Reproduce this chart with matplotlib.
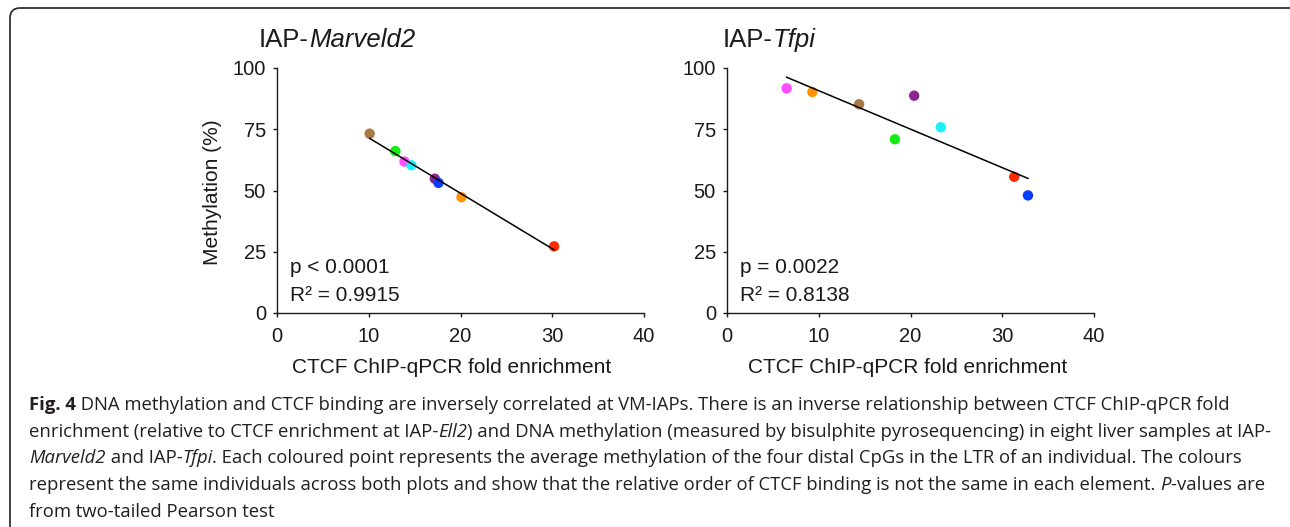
"""CTCF enrichment vs DNA methylation at IAP-Marveld2 and IAP-Tfpi (Fig. 4).
"""
import matplotlib
matplotlib.use('Agg')
import matplotlib.pyplot as plt
from matplotlib.font_manager import FontProperties
from matplotlib.patches import FancyBboxPatch
from matplotlib.transforms import IdentityTransform
import numpy as np

W, H = 1290, 527

# one colour per individual, same order in both panels
individuals = ['pink', 'orange', 'brown', 'green', 'purple', 'cyan', 'red', 'blue']
colours = ['#ff4cff', '#ff9200', '#a87a45', '#14ee14', '#8e2490', '#1ef0fa', '#ff2a00', '#0a3cff']

# IAP-Marveld2
marveld2_ctcf = [13.9, 20.1, 10.1, 12.9, 17.2, 14.65, 30.2, 17.6]
marveld2_meth = [61.8, 47.3, 73.2, 66.1, 54.8, 60.3, 27.2, 53.1]

# IAP-Tfpi
tfpi_ctcf = [6.5, 9.3, 14.4, 18.3, 20.4, 23.3, 31.3, 32.8]
tfpi_meth = [91.7, 90.2, 85.2, 70.9, 88.7, 75.8, 55.6, 48.0]

panels = [
    ('IAP-', 'Marveld2', marveld2_ctcf, marveld2_meth, 'p < 0.0001', 'R\u00b2 = 0.9915'),
    ('IAP-', 'Tfpi', tfpi_ctcf, tfpi_meth, 'p = 0.0022', 'R\u00b2 = 0.8138'),
]

x_ticks = [0, 10, 20, 30, 40]
y_ticks = [0, 25, 50, 75, 100]

caption = [
    [('Fig. 4', 'normal', 'bold'),
     (' DNA methylation and CTCF binding are inversely correlated at VM-IAPs. There is an inverse '
      'relationship between CTCF ChIP-qPCR fold', 'normal', 'normal')],
    [('enrichment (relative to CTCF enrichment at IAP-', 'normal', 'normal'),
     ('Ell2', 'italic', 'normal'),
     (') and DNA methylation (measured by bisulphite pyrosequencing) in eight liver samples at IAP-',
      'normal', 'normal')],
    [('Marveld2', 'italic', 'normal'),
     (' and IAP-', 'normal', 'normal'),
     ('Tfpi', 'italic', 'normal'),
     ('. Each coloured point represents the average methylation of the four distal CpGs in the LTR '
      'of an individual. The colours', 'normal', 'normal')],
    [('represent the same individuals across both plots and show that the relative order of CTCF '
      'binding is not the same in each element. ', 'normal', 'normal'),
     ('P', 'italic', 'normal'),
     ('-values are', 'normal', 'normal')],
    [('from two-tailed Pearson test', 'normal', 'normal')],
]

CHART_FONT = 'Liberation Sans'
CAPTION_FONT = ['Open Sans', 'DejaVu Sans']
INK = '#1a1a1a'


def px(x, y):
    # pixel position (from top-left) -> figure fraction
    return x / W, 1 - y / H


def draw_runs(fig, x, y, runs, size, family, color):
    # draw pieces of text with different styles one after the other on a baseline
    renderer = fig.canvas.get_renderer()
    for text, style, weight in runs:
        prop = FontProperties(family=family, style=style, weight=weight, size=size)
        fig.text(*px(x, y), text, fontproperties=prop, color=color,
                 ha='left', va='baseline')
        w1, _, _ = renderer.get_text_width_height_descent(text + '|', prop, ismath=False)
        w2, _, _ = renderer.get_text_width_height_descent('|', prop, ismath=False)
        x += w1 - w2


fig = plt.figure(figsize=(W / 100, H / 100), dpi=100)

# rounded frame, open to the right and bottom
frame = FancyBboxPatch((10, -30), 1320, H - 8 + 30,
                       boxstyle='round,pad=0,rounding_size=10',
                       transform=IdentityTransform(), facecolor='none',
                       edgecolor='#333333', linewidth=1.3)
fig.patches.append(frame)

axes_left = [277, 727]
title_left = [259, 723]
xlabel_centre = [452, 908]

for i, (prefix, gene, ctcf, meth, p_txt, r_txt) in enumerate(panels):
    ax = fig.add_axes([axes_left[i] / W, 1 - 313 / H, 367 / W, 245 / H])
    ctcf = np.array(ctcf)
    meth = np.array(meth)

    ax.scatter(ctcf, meth, s=56, c=colours, linewidths=0, zorder=2, clip_on=False)

    slope, intercept = np.polyfit(ctcf, meth, 1)
    xs = np.array([ctcf.min(), ctcf.max()])
    ax.plot(xs, slope * xs + intercept, color='black', linewidth=1.1, zorder=3)

    ax.set_xlim(0, 40)
    ax.set_ylim(0, 100)
    ax.set_xticks(x_ticks)
    ax.set_yticks(y_ticks)
    for side in ['top', 'right']:
        ax.spines[side].set_visible(False)
    for side in ['left', 'bottom']:
        ax.spines[side].set_linewidth(1.0)
        ax.spines[side].set_color(INK)
    ax.tick_params(axis='both', direction='out', length=3, width=1.0, color=INK,
                   labelsize=14.5, labelcolor=INK)
    ax.tick_params(axis='x', pad=7)
    ax.tick_params(axis='y', pad=5)
    for lab in ax.get_xticklabels() + ax.get_yticklabels():
        lab.set_fontfamily(CHART_FONT)

    ax.text(0.035, 0.163, p_txt, transform=ax.transAxes, fontsize=15,
            family=CHART_FONT, color=INK, va='baseline')
    ax.text(0.035, 0.049, r_txt, transform=ax.transAxes, fontsize=15,
            family=CHART_FONT, color=INK, va='baseline')

    draw_runs(fig, title_left[i], 47,
              [(prefix, 'normal', 'normal'), (gene, 'italic', 'normal')],
              18.5, CHART_FONT, INK)

    fig.text(*px(xlabel_centre[i], 373), 'CTCF ChIP-qPCR fold enrichment',
             fontsize=15, family=CHART_FONT, color=INK, ha='center', va='baseline')

fig.text(*px(212, 192), 'Methylation (%)', fontsize=15, family=CHART_FONT,
         color=INK, rotation=90, ha='center', va='center')

baselines = [410, 437, 463, 490, 517]
for runs, base in zip(caption, baselines):
    draw_runs(fig, 29, base, runs, 13.3, CAPTION_FONT, '#231f20')

fig.savefig('out.png', dpi=100)
